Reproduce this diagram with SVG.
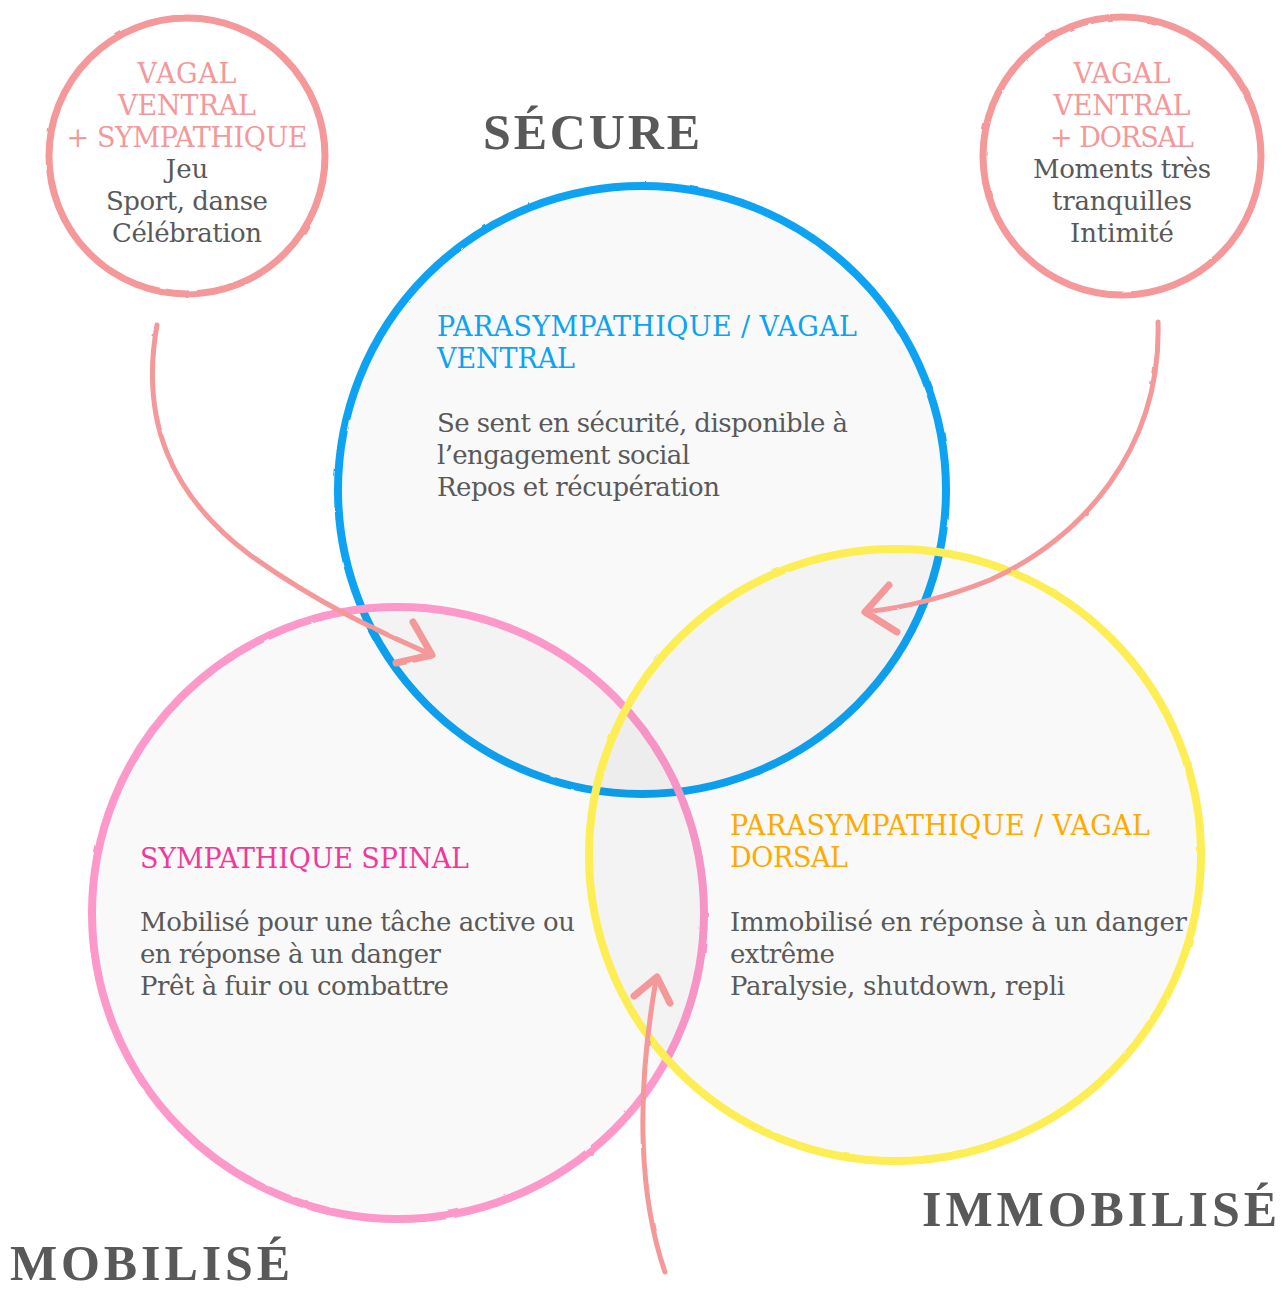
<svg xmlns="http://www.w3.org/2000/svg" width="1288" height="1289" viewBox="0 0 1288 1289">
<style>
.t{font-family:"DejaVu Serif","Liberation Serif",serif;font-size:26px;fill:#595959}
.u{font-size:27px}
.c{text-anchor:middle}
.sal{fill:#f4989a}
.blue{fill:#0ba3f2}
.pink{fill:#f0399a}
.orange{fill:#ffaa00}
.title{font-family:"Liberation Serif","DejaVu Serif",serif;font-weight:bold;font-size:50px;fill:#595959}
.big{fill:#000;fill-opacity:0.022;stroke-width:8}
.small{fill:#fff;stroke:#f4989a;stroke-width:7}
.arr{fill:none;stroke:#f4989a;stroke-width:5;stroke-linecap:round;stroke-linejoin:round}
.head{fill:none;stroke:#f4989a;stroke-width:7;stroke-linecap:round;stroke-linejoin:round}
</style>
<defs>
<filter id="rough" x="-10%" y="-10%" width="120%" height="120%">
<feTurbulence type="fractalNoise" baseFrequency="0.05" numOctaves="2" seed="4"/>
<feDisplacementMap in="SourceGraphic" scale="2"/>
</filter>
</defs>
<rect width="1288" height="1289" fill="#fff"/>
<g id="circle-blue"><circle class="big" cx="642" cy="490" r="304" stroke="#0ba3f2" filter="url(#rough)"/></g>
<g id="circle-pink"><circle class="big" cx="398" cy="913" r="306" stroke="#fd98cb" filter="url(#rough)"/></g>
<g id="circle-yellow"><circle class="big" cx="895" cy="855" r="306" stroke="#fdee55" filter="url(#rough)"/></g>
<g id="small-left"><circle class="small" cx="187" cy="156" r="138" filter="url(#rough)"/>
<text class="t u c sal" x="187" y="83" textLength="99">VAGAL</text>
<text class="t u c sal" x="187" y="115" textLength="138">VENTRAL</text>
<text class="t u c sal" x="187" y="147" textLength="241">+ SYMPATHIQUE</text>
<text class="t c" x="187" y="178">Jeu</text>
<text class="t c" x="187" y="210" textLength="162">Sport, danse</text>
<text class="t c" x="187" y="242" textLength="150">Célébration</text>
</g>
<g id="small-right"><circle class="small" cx="1122" cy="156" r="139" filter="url(#rough)"/>
<text class="t u c sal" x="1122" y="83" textLength="97">VAGAL</text>
<text class="t u c sal" x="1122" y="115" textLength="137">VENTRAL</text>
<text class="t u c sal" x="1122" y="147" textLength="144">+ DORSAL</text>
<text class="t c" x="1122" y="178" textLength="178">Moments très</text>
<text class="t c" x="1122" y="210" textLength="140">tranquilles</text>
<text class="t c" x="1122" y="242" textLength="104">Intimité</text>
</g>
<g id="label-blue">
<text class="t u blue" x="437" y="336" textLength="420">PARASYMPATHIQUE / VAGAL</text>
<text class="t u blue" x="437" y="368" textLength="138">VENTRAL</text>
<text class="t" x="437" y="432" textLength="411">Se sent en sécurité, disponible à</text>
<text class="t" x="437" y="464" textLength="253">l’engagement social</text>
<text class="t" x="437" y="496" textLength="283">Repos et récupération</text>
</g>
<g id="label-pink">
<text class="t u pink" x="140" y="868" textLength="329">SYMPATHIQUE SPINAL</text>
<text class="t" x="140" y="931" textLength="435">Mobilisé pour une tâche active ou</text>
<text class="t" x="140" y="963" textLength="301">en réponse à un danger</text>
<text class="t" x="140" y="995" textLength="309">Prêt à fuir ou combattre</text>
</g>
<g id="label-yellow">
<text class="t u orange" x="730" y="835" textLength="420">PARASYMPATHIQUE / VAGAL</text>
<text class="t u orange" x="730" y="867" textLength="118">DORSAL</text>
<text class="t" x="730" y="931" textLength="457">Immobilisé en réponse à un danger</text>
<text class="t" x="730" y="963" textLength="105">extrême</text>
<text class="t" x="730" y="995" textLength="335">Paralysie, shutdown, repli</text>
</g>
<g id="titles">
<text class="title" x="483" y="149" textLength="217" lengthAdjust="spacing">SÉCURE</text>
<text class="title" x="10" y="1280" textLength="280" lengthAdjust="spacing">MOBILISÉ</text>
<text class="title" x="922" y="1226" textLength="355" lengthAdjust="spacing">IMMOBILISÉ</text>
</g>
<g id="connectors" filter="url(#rough)">
<path class="arr" d="M157,325 C140,420 170,495 250,555 C320,605 380,632 430,654"/>
<path class="head" d="M413,622 L432,655 L396,663"/>
<path class="arr" d="M1158,322 C1162,450 1080,540 990,580 C940,600 900,608 866,612"/>
<path class="head" d="M889,585 L865,612 L897,632"/>
<path class="arr" d="M665,1272 C640,1200 635,1100 656,980"/>
<path class="head" d="M634,996 L657,977 L670,1003"/>
</g>
</svg>
